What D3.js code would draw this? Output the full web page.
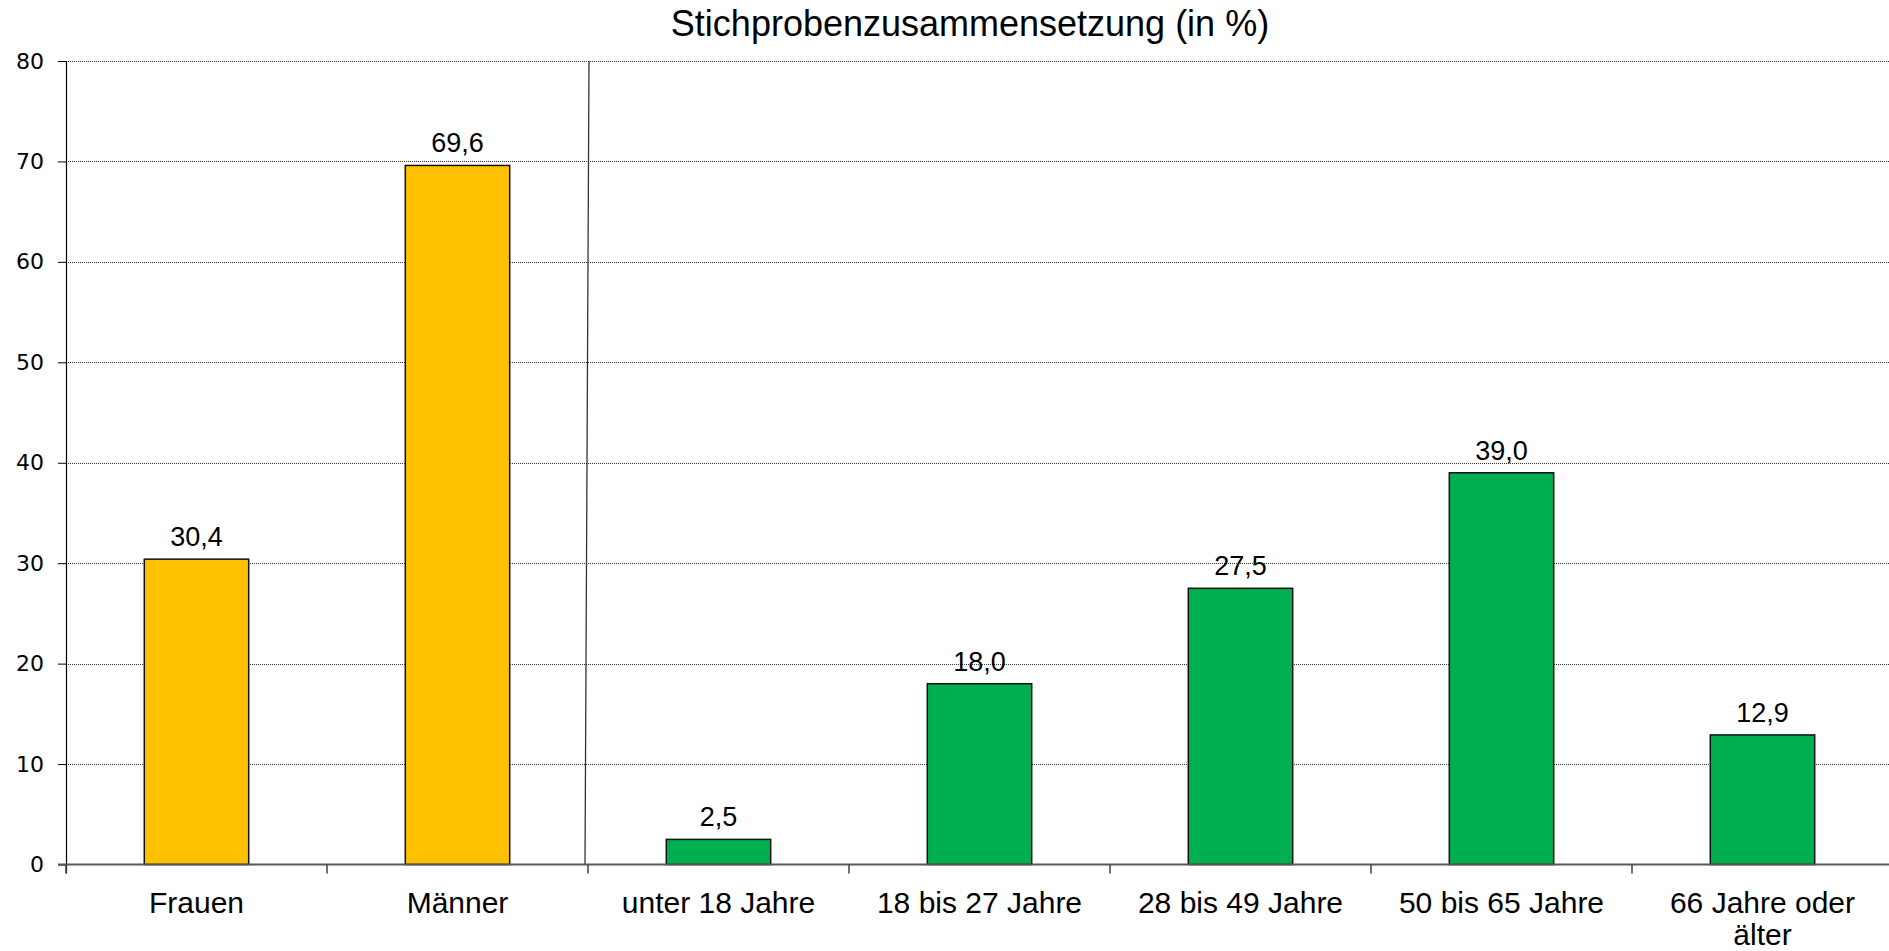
<!DOCTYPE html>
<html>
<head>
<meta charset="utf-8">
<script src="https://cdn.jsdelivr.net/npm/d3@7"></script>
<style>
  body { margin: 0; background: #fff; }
  svg { display: block; }
</style>
</head>
<body>
<svg width="1889" height="951"></svg>
<script>
// data
const categories = ["Frauen", "Männer", "unter 18 Jahre", "18 bis 27 Jahre", "28 bis 49 Jahre", "50 bis 65 Jahre", "66 Jahre oder älter"];
const labelLines = [["Frauen"], ["Männer"], ["unter 18 Jahre"], ["18 bis 27 Jahre"], ["28 bis 49 Jahre"], ["50 bis 65 Jahre"], ["66 Jahre oder", "älter"]];
const values = [30.4, 69.6, 2.5, 18.0, 27.5, 39.0, 12.9];
const groups = ["sex", "sex", "age", "age", "age", "age", "age"];
const yTicks = [0, 10, 20, 30, 40, 50, 60, 70, 80];
const title = "Stichprobenzusammensetzung (in %)";

const colors = { sex: "#FFC000", age: "#00B050" };
const de = d3.formatLocale({ decimal: ",", thousands: ".", grouping: [3], currency: ["", " €"] });
const fmt = de.format(".1f");

const svg = d3.select("svg");
const plotLeft = 66, step = 261, plotTop = 61, plotBottom = 864.5;

const xScale = d3.scaleBand()
  .domain(categories)
  .range([plotLeft, plotLeft + step * categories.length])
  .paddingInner(0.6)
  .paddingOuter(0.3);
const yScale = d3.scaleLinear().domain([0, 80]).range([plotBottom, plotTop]);

// band boundaries for ticks
const boundaries = categories.map((c) => xScale(c) - xScale.step() * 0.3);
boundaries.push(xScale.range()[1]);

// title
svg.append("text")
  .attr("x", 970)
  .attr("y", 36)
  .attr("text-anchor", "middle")
  .style("font-family", "Liberation Sans, Arial, sans-serif")
  .style("font-size", "36px")
  .text(title);

// gridlines
svg.append("g")
  .selectAll("line")
  .data(yTicks.filter((t) => t > 0))
  .enter()
  .append("line")
  .attr("x1", plotLeft)
  .attr("x2", 1889)
  .attr("y1", (d) => Math.round(yScale(d)) + 0.5)
  .attr("y2", (d) => Math.round(yScale(d)) + 0.5)
  .attr("stroke", "#333")
  .attr("stroke-width", 1)
  .attr("stroke-dasharray", "1,1");

// y axis
const yAxis = svg.append("g")
  .attr("transform", "translate(" + plotLeft + ",0)")
  .call(d3.axisLeft(yScale).tickValues(yTicks).tickSize(8).tickPadding(14).tickSizeOuter(0));
yAxis.select(".domain").remove();
yAxis.selectAll(".tick line").attr("stroke", "#000");
yAxis.selectAll("text")
  .style("font-family", "DejaVu Sans, Verdana, sans-serif")
  .style("font-size", "22px")
  .attr("fill", "#000");
svg.append("line")
  .attr("x1", plotLeft + 0.5).attr("x2", plotLeft + 0.5)
  .attr("y1", plotTop).attr("y2", plotBottom + 9)
  .attr("stroke", "#000").attr("stroke-width", 1.2);

// separator between groups
const sepX = boundaries[2];
svg.append("line")
  .attr("x1", sepX + 1).attr("y1", plotTop)
  .attr("x2", sepX - 3).attr("y2", plotBottom)
  .attr("stroke", "#333").attr("stroke-width", 1.3);

// bars
svg.append("g")
  .selectAll("rect")
  .data(values)
  .enter()
  .append("rect")
  .attr("x", (d, i) => xScale(categories[i]))
  .attr("y", (d) => yScale(d))
  .attr("width", xScale.bandwidth())
  .attr("height", (d) => yScale(0) - yScale(d))
  .attr("fill", (d, i) => colors[groups[i]])
  .attr("stroke", "#111")
  .attr("stroke-width", 1.5);

// value labels
svg.append("g")
  .selectAll("text")
  .data(values)
  .enter()
  .append("text")
  .attr("x", (d, i) => xScale(categories[i]) + xScale.bandwidth() / 2)
  .attr("y", (d) => yScale(d) - 13)
  .attr("text-anchor", "middle")
  .style("font-family", "Liberation Sans, Arial, sans-serif")
  .style("font-size", "27px")
  .text((d) => fmt(d));

// x axis line and ticks
svg.append("line")
  .attr("x1", plotLeft - 8).attr("x2", 1889)
  .attr("y1", plotBottom).attr("y2", plotBottom)
  .attr("stroke", "#595959").attr("stroke-width", 2.2);
svg.append("g")
  .selectAll("line")
  .data(boundaries)
  .enter()
  .append("line")
  .attr("x1", (d) => d).attr("x2", (d) => d)
  .attr("y1", plotBottom).attr("y2", plotBottom + 9)
  .attr("stroke", "#404040").attr("stroke-width", 1.5);

// category labels
const cat = svg.append("g")
  .selectAll("text")
  .data(categories)
  .enter()
  .append("text")
  .attr("x", (d) => xScale(d) + xScale.bandwidth() / 2)
  .attr("y", 913)
  .attr("text-anchor", "middle")
  .style("font-family", "Liberation Sans, Arial, sans-serif")
  .style("font-size", "30px");
cat.selectAll("tspan")
  .data((d, i) => labelLines[i])
  .enter()
  .append("tspan")
  .attr("x", function () { return d3.select(this.parentNode).attr("x"); })
  .attr("dy", (d, i) => (i === 0 ? 0 : 32))
  .text((d) => d);
</script>
</body>
</html>
